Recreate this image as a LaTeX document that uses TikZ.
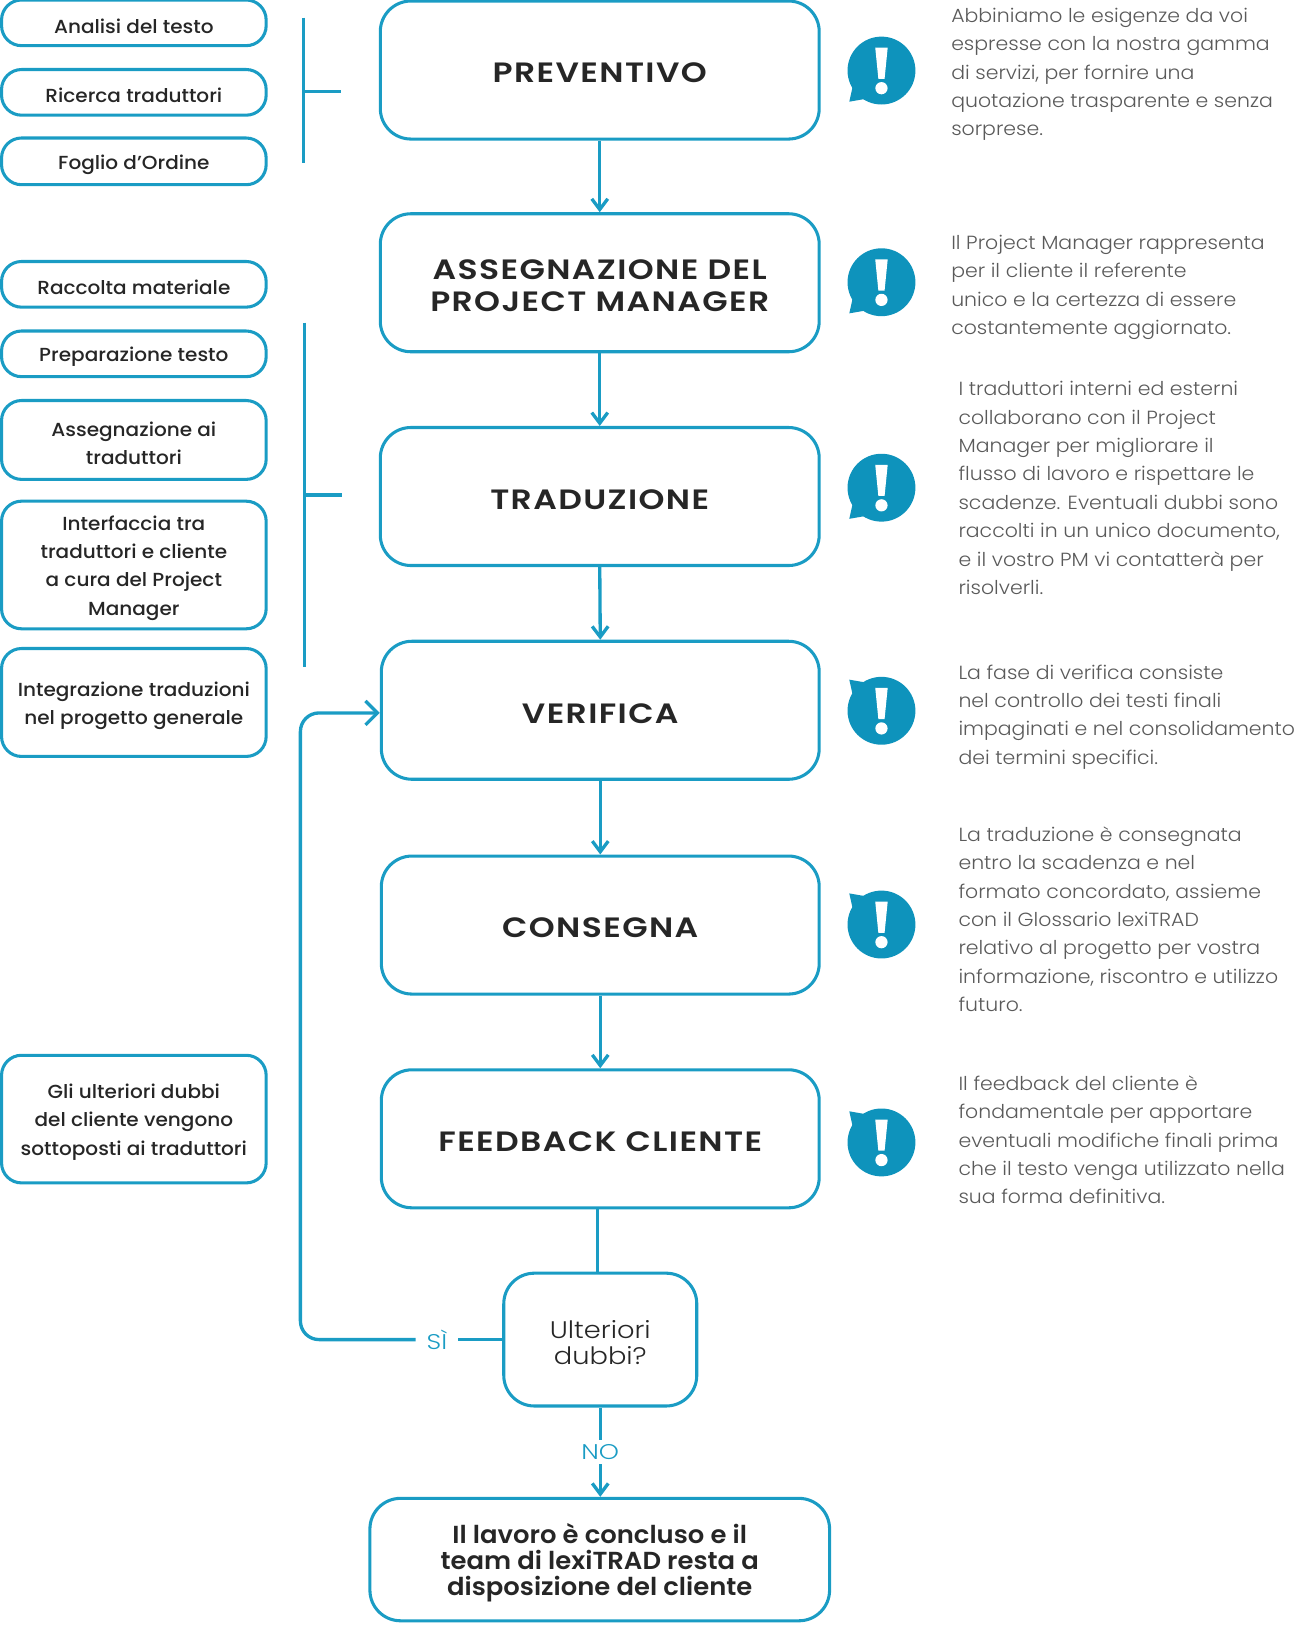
\documentclass[tikz,border=0pt]{standalone}
\usepackage{fontspec}
\usetikzlibrary{arrows.meta}
\setmainfont{Poppins}
\newfontfamily\lightf[FakeStretch=1.075]{Poppins Light}
\newfontfamily\lightw[FakeStretch=1.14]{Poppins Light}
\newfontfamily\labf[FakeStretch=1.2]{Poppins Light}
\newfontfamily\medf[FakeStretch=1.06]{Poppins Medium}
\newfontfamily\semif[FakeStretch=1.18,LetterSpace=5]{Poppins SemiBold}
\newfontfamily\semin[FakeStretch=1.05]{Poppins SemiBold}
\definecolor{lblue}{HTML}{1A9CC4}
\definecolor{ldark}{HTML}{0E93BC}
\definecolor{ltext}{HTML}{262626}
\definecolor{lgray}{HTML}{5A5A5A}
\tikzset{
  x=0.7796pt,y=-0.7796pt,
  conn/.style={draw=lblue,line width=2.5pt},
  arr/.style={conn,-{Straight Barb[length=8pt,width=12pt,line width=2.5pt]}},
  bigbox/.style={draw=lblue,line width=2.3pt,rounded corners=23pt,inner sep=0pt,align=center,text=ltext,
     font=\semif\fontsize{21}{23.5}\selectfont},
  smallbox/.style={draw=lblue,line width=2.3pt,rounded corners=15pt,inner sep=0pt,align=center,text=ltext,
     font=\medf\fontsize{14.2}{21.3}\selectfont},
  desc/.style={anchor=north west,inner sep=0pt,align=left,text=lgray,font=\lightf\fontsize{14.3}{21.3}\selectfont},
  lab/.style={text=lblue,font=\labf\fontsize{16}{17}\selectfont,inner xsep=8pt,inner ysep=3pt,fill=white},
}
% box by corners: name, style, x1, y1, x2, y2, text (text sits in its own node, a little below the box centre)
\newcommand{\bx}[7]{%
  \pgfmathsetmacro{\bxw}{(#5-#3)*0.7796}%
  \pgfmathsetmacro{\bxh}{(#6-#4)*0.7796}%
  \node[#2,text opacity=0,minimum width=\bxw pt,minimum height=\bxh pt] (#1) at ({(#3+#5)/2},{(#4+#6)/2}) {};
  \node[#2,draw=none,yshift=-2.3pt] (#1t) at (#1.center) {#7};}
% speech bubble: name, cx, cy, tail direction (1 below, -1 above)
\newcommand{\bubble}[4]{%
  \node[circle,fill=ldark,minimum size=51pt,inner sep=0pt] (#1) at (#2,#3) {};
  \fill[ldark] (#2-27,#3+#4*12) -- (#2-31,#3+#4*30) -- (#2-8,#3+#4*26) -- cycle;
  \fill[white] (#2-6,#3-22) -- (#2+6,#3-22) -- (#2+3,#3+8) -- (#2-3,#3+8) -- cycle;
  \fill[white] (#2,#3+17) circle (4.6pt);}
\begin{document}
\begin{tikzpicture}
\useasboundingbox (-0.5,0) rectangle (1249.5,1568);
% main
\bx{prev}{bigbox}{366}{1}{789}{134}{PREVENTIVO}
\bx{pm}{bigbox}{366}{206}{789}{339}{ASSEGNAZIONE DEL\\PROJECT MANAGER}
\bx{trad}{bigbox}{366}{412}{789}{545}{TRADUZIONE}
\bx{ver}{bigbox}{367}{618}{789}{751}{VERIFICA}
\bx{cons}{bigbox}{367}{825}{789}{958}{CONSEGNA}
\bx{feed}{bigbox}{367}{1031}{789}{1164}{FEEDBACK CLIENTE}
\bx{dub}{smallbox,rounded corners=23pt,font=\lightw\fontsize{18}{19.5}\selectfont}{485}{1227}{671}{1355}{Ulteriori\\dubbi?}
\bx{fine}{bigbox,font=\semin\fontsize{18.5}{19.6}\selectfont}{356}{1444}{799}{1562}{Il lavoro è concluso e il\\team di lexiTRAD resta a\\disposizione del cliente}
% left
\bx{l1}{smallbox}{1}{0}{256}{44}{Analisi del testo}
\bx{l2}{smallbox}{1}{67}{256}{111}{Ricerca traduttori}
\bx{l3}{smallbox}{1}{133}{256}{178}{Foglio d’Ordine}
\bx{l4}{smallbox}{1}{252}{256}{296}{Raccolta materiale}
\bx{l5}{smallbox}{1}{319}{256}{363}{Preparazione testo}
\bx{l6}{smallbox}{1}{386}{256}{462}{Assegnazione ai\\traduttori}
\bx{l7}{smallbox}{1}{483}{256}{606}{Interfaccia tra\\traduttori e cliente\\a cura del Project\\Manager}
\bx{l8}{smallbox}{1}{625}{256}{729}{Integrazione traduzioni\\nel progetto generale}
\bx{l9}{smallbox}{1}{1017}{256}{1140}{Gli ulteriori dubbi\\del cliente vengono\\sottoposti ai traduttori}
% arrows
\draw[arr] (prev.south) -- (pm.north);
\draw[arr] (pm.south) -- (trad.north);
\draw[arr] (trad.south) -- (ver.north);
\draw[arr] (ver.south) -- (cons.north);
\draw[arr] (cons.south) -- (feed.north);
\coordinate (fb) at (575.5,1164);
\draw[conn] (fb) -- (fb |- dub.north);
\path (dub.west) -- ++(-63,0) node[lab] (si) {SÌ};
\path (dub.south) -- ++(0,43) node[lab] (no) {NO};
\draw[conn] (dub.west) -- (si);
\coordinate (c1) at (289,0);
\coordinate (vin) at ([yshift=-2pt]ver.west);
\draw[conn,rounded corners=14pt,-{Straight Barb[length=9pt,width=18pt,line width=2.5pt]}] (si) -- (c1 |- si) -- (c1 |- vin) -- (vin);
\draw[conn] (dub.south) -- (no);
\draw[arr] (no) -- (no |- fine.north);
% brackets
\coordinate (b1t) at (292,17);
\coordinate (b1b) at (292,157);
\coordinate (b1m) at (292,88);
\coordinate (b1e) at (328,88);
\draw[conn] (b1t) -- (b1b);
\draw[conn] (b1m) -- (b1e);
\coordinate (b2t) at (293,311);
\coordinate (b2b) at (293,643);
\coordinate (b2m) at (293,477);
\coordinate (b2e) at (329,477);
\draw[conn] (b2t) -- (b2b);
\draw[conn] (b2m) -- (b2e);
% bubbles
\bubble{i1}{849}{68}{1}
\bubble{i2}{849}{272}{1}
\bubble{i3}{849}{470}{1}
\bubble{i4}{849}{685}{-1}
\bubble{i5}{849}{891}{-1}
\bubble{i6}{849}{1101}{-1}
% descriptions
\node[desc] (d1) at (916,7.5) {Abbiniamo le esigenze da voi\\espresse con la nostra gamma\\di servizi, per fornire una\\quotazione trasparente e senza\\sorprese.};
\node[desc] (d2) at (916,226.5) {Il Project Manager rappresenta\\per il cliente il referente\\unico e la certezza di essere\\costantemente aggiornato.};
\node[desc] (d3) at (923,367.5) {I traduttori interni ed esterni\\collaborano con il Project\\Manager per migliorare il\\flusso di lavoro e rispettare le\\scadenze. Eventuali dubbi sono\\raccolti in un unico documento,\\e il vostro PM vi contatterà per\\risolverli.};
\node[desc] (d4) at (923,640.5) {La fase di verifica consiste\\nel controllo dei testi finali\\impaginati e nel consolidamento\\dei termini specifici.};
\node[desc] (d5) at (923,796.5) {La traduzione è consegnata\\entro la scadenza e nel\\formato concordato, assieme\\con il Glossario lexiTRAD\\relativo al progetto per vostra\\informazione, riscontro e utilizzo\\futuro.};
\node[desc] (d6) at (923,1036.5) {Il feedback del cliente è\\fondamentale per apportare\\eventuali modifiche finali prima\\che il testo venga utilizzato nella\\sua forma definitiva.};
\end{tikzpicture}
\end{document}
